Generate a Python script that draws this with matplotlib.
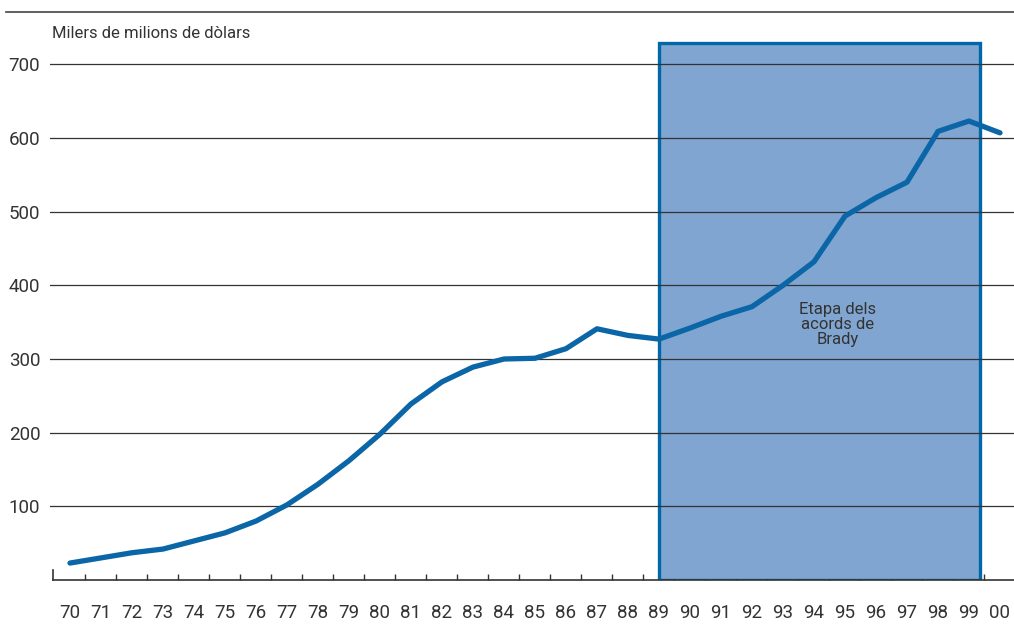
import matplotlib
matplotlib.use("Agg")
import matplotlib.pyplot as plt
from matplotlib.patches import Rectangle
from matplotlib.lines import Line2D

years = list(range(1970, 2001))
tick_labels = ["70", "71", "72", "73", "74", "75", "76", "77", "78", "79",
               "80", "81", "82", "83", "84", "85", "86", "87", "88", "89",
               "90", "91", "92", "93", "94", "95", "96", "97", "98", "99", "00"]
debt = [23, 30, 37, 42, 53, 64, 80, 102, 130, 162,
        198, 239, 269, 289, 300, 301, 314, 341, 332, 327,
        342, 358, 371, 400, 432, 494, 519, 540, 609, 623, 607]
brady_start, brady_end = 1989, 1999.35
brady_top = 729
y_ticks = [100, 200, 300, 400, 500, 600, 700]

plt.rcParams['font.family'] = ['Roboto', 'DejaVu Sans']
txt = '#333333'
blue = '#0a66a6'

W, H = 1014, 641
fig = plt.figure(figsize=(W / 100, H / 100), dpi=100)
left_px, right_px, top_px, bot_px = 50, 1014, 12, 580
ax = fig.add_axes([left_px / W, 1 - bot_px / H, (right_px - left_px) / W, (bot_px - top_px) / H])

px_per_year = 31
x0 = 1970 - (70 - left_px) / px_per_year
x1 = 1970 + (right_px - 70) / px_per_year
ax.set_xlim(x0, x1)
ppv = (506 - 64) / 600
ax.set_ylim(0, (bot_px - top_px) / ppv)

for s in ['left', 'right', 'top']:
    ax.spines[s].set_visible(False)
ax.spines['bottom'].set_color('#333333')
ax.spines['bottom'].set_linewidth(1.2)
ax.spines['bottom'].set_bounds(1970 - 17 / px_per_year, x1)

for yv in y_ticks:
    ax.axhline(yv, color='#333333', lw=0.9, zorder=3)

ax.add_patch(Rectangle((brady_start, 0), brady_end - brady_start, brady_top,
                       facecolor='#7fa5d0', edgecolor='#0068a8', lw=2.4, zorder=2))

ax.plot(years, debt, color=blue, lw=3.8, solid_capstyle='round',
        solid_joinstyle='round', zorder=4)

ax.text(1994.77, 347, "Etapa dels\nacords de\nBrady", ha='center', va='center',
        fontsize=12, color=txt, linespacing=1.0, zorder=5)

ax.set_yticks(y_ticks)
ax.set_yticklabels([str(v) for v in y_ticks], fontsize=13.5, color=txt)
ax.tick_params(axis='y', length=0, pad=7)

ax.set_xticks(years)
ax.set_xticklabels(tick_labels, fontsize=13.5, color=txt)
ax.tick_params(axis='x', which='major', length=0, pad=17)
ax.set_xticks([y + 0.5 for y in years[:-1]], minor=True)
ax.tick_params(axis='x', which='minor', direction='in', length=4, width=1, color='#333333')

ax.plot([1970 - 17 / px_per_year] * 2, [0, 14], color='#333333', lw=1.2, clip_on=False, zorder=3)

fig.text(52 / W, 1 - 33 / H, "Milers de milions de dòlars", fontsize=12, color=txt,
         ha='left', va='center')
fig.add_artist(Line2D([6 / W, 1], [1 - 12 / H, 1 - 12 / H], color='#444444', lw=1.2))

fig.savefig('out.png', dpi=100)
